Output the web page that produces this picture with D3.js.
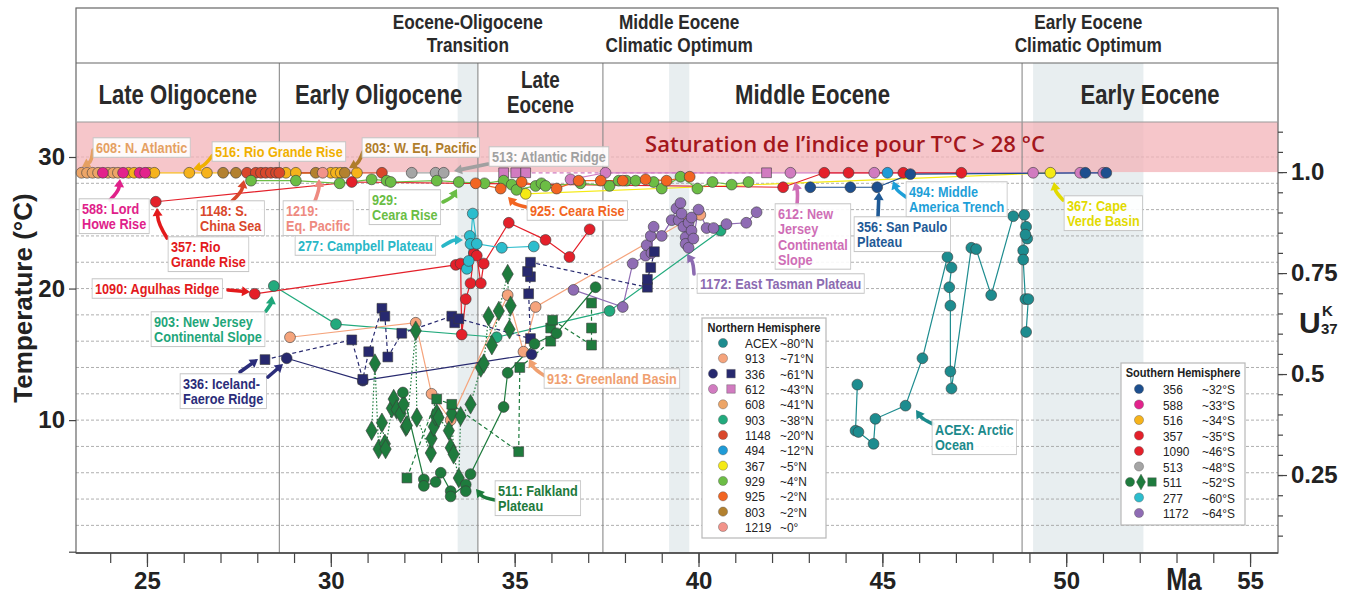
<!DOCTYPE html>
<html>
<head>
<meta charset="utf-8">
<script src="https://cdn.jsdelivr.net/npm/d3@7"></script>
<style>
  body { margin: 0; background: #fff; }
  svg text { font-family: "Liberation Sans", Arial, sans-serif; }
</style>
</head>
<body>
<div id="chart"></div>
<script>
// ---------- data (age in Ma, temperature in °C) ----------
// Northern Hemisphere
const acex = [[44.32,12.7],[44.27,9.2],[44.35,9.1],[44.76,8.2],[44.81,10.1],[45.63,11.1],[46.09,14.7],[46.77,22.4],[46.88,21.6],[46.82,20.1],[46.85,18.7],[46.85,13.7],[46.88,12.4],[47.42,23.1],[47.55,23.0],[47.96,19.5],[48.56,25.5],[48.86,25.6],[48.91,24.7],[48.94,23.8],[48.89,24.1],[48.83,22.9],[48.83,22.2],[48.89,19.2],[48.97,19.2],[48.91,16.7]];
const s913 = [[28.89,16.3],[32.31,17.4],[32.74,12.0],[33.26,10.0],[34.81,19.5],[35.24,15.2],[35.57,18.6],[39.62,25.1],[40.05,25.6]];
const s336c = [[28.80,14.7],[30.87,13.0],[35.46,15.0]];
const s336s = [[28.21,14.6],[30.57,16.1],[30.87,13.1],[31.03,15.2],[31.39,18.5],[31.47,17.9],[31.55,14.8],[31.93,16.6],[33.29,17.9],[33.37,17.4],[33.48,17.7],[35.43,16.2],[35.38,19.6],[35.43,20.9],[35.35,21.3],[35.43,22.0],[38.61,20.1],[38.61,20.7],[38.70,21.6],[38.80,22.8]];
const s612c = [[36.52,28.3],[37.47,28.8],[42.50,28.8],[44.78,28.8],[49.10,28.8],[50.38,28.8],[51.01,28.8]];
const s612s = [[34.70,28.8],[35.03,28.8],[35.30,28.8],[41.85,28.8]];
const s608 = [[23.22,28.8],[23.37,28.8],[23.52,28.8],[23.67,28.8],[23.94,28.8],[24.08,28.8],[24.21,28.8]];
const s903 = [[28.45,20.2],[30.14,17.3],[34.51,16.3],[37.58,18.3],[40.60,24.4]];
const s1148 = [[27.72,28.8],[27.96,28.8],[28.10,28.8],[28.23,28.8],[28.37,28.8],[28.51,28.8],[28.60,28.8],[31.39,28.8]];
const s494 = [[45.14,28.8]];
const s367 = [[35.30,27.2],[49.57,28.8]];
const s929 = [[27.83,28.2],[29.05,28.2],[30.24,28.0],[31.11,28.3],[31.52,28.2],[31.63,28.1],[32.88,28.2],[33.48,28.1],[34.18,28.0],[34.70,28.2],[34.92,27.9],[35.05,27.5],[35.57,27.8],[35.73,28.0],[35.84,27.8],[36.79,28.0],[37.58,27.8],[37.83,28.2],[38.04,28.2],[38.29,28.2],[38.78,28.1],[39.00,27.6],[39.51,28.5],[39.97,27.6],[40.38,28.1],[40.90,27.9],[41.36,28.1]];
const s925 = [[33.94,28.0],[34.62,27.6],[35.19,28.1],[36.14,27.6],[36.74,28.2],[37.34,28.2],[37.94,28.2],[38.56,28.3],[39.13,28.2],[39.76,28.5]];
const s803 = [[27.07,28.8],[27.42,28.8],[29.59,28.8],[30.38,28.8]];
const s1219 = [[29.78,28.8]];
// Southern Hemisphere
const s356 = [[43.04,27.7],[44.13,27.7],[44.86,27.7],[45.76,28.7],[50.52,28.8],[51.09,28.8]];
const s588 = [[23.80,28.8],[24.35,28.8],[24.80,28.8],[24.95,28.8]];
const s516 = [[24.50,28.8],[24.65,28.8],[25.05,28.8],[25.20,28.8],[26.15,28.8],[26.63,28.8],[28.78,28.8],[29.05,28.8],[30.00,28.8],[30.14,28.8],[30.27,28.8],[30.71,28.8]];
const s357 = [[25.24,26.6],[30.57,28.1],[42.30,27.7],[43.42,28.8],[44.08,28.8],[45.57,28.8],[47.15,28.8]];
const s1090 = [[27.93,19.6],[33.40,21.8],[33.53,21.9],[33.56,16.5],[33.67,19.2],[33.80,20.4],[33.89,22.7],[33.97,22.5],[34.08,20.4],[34.16,21.9],[34.84,25.0],[35.84,23.7],[36.49,22.4],[37.04,24.5]];
const s513 = [[32.20,28.8],[32.85,28.8],[33.07,28.8]];
const s511c = [[31.96,12.1],[32.53,5.5],[32.53,5.0],[32.85,5.3],[32.99,6.0],[33.26,4.6],[33.26,4.2],[33.67,5.1],[33.67,4.6],[33.80,5.9],[34.70,11.0],[34.81,13.6],[35.54,15.8],[36.14,16.6],[37.20,20.1]];
const s511d = [[31.11,9.2],[31.20,14.3],[31.30,7.8],[31.39,9.8],[31.47,8.2],[31.49,7.8],[31.66,10.9],[31.71,11.6],[31.79,10.8],[31.90,10.5],[31.98,11.2],[32.04,9.5],[32.07,9.6],[32.31,16.8],[32.34,10.2],[32.72,7.5],[32.74,8.6],[32.80,9.5],[32.85,10.3],[32.88,10.5],[32.93,10.2],[33.21,9.2],[33.26,7.9],[33.29,10.5],[33.34,7.4],[33.48,5.6],[33.53,10.3],[33.80,11.2],[34.08,14.0],[34.16,14.3],[34.29,17.9],[34.38,15.7],[34.57,18.3],[34.81,21.1],[34.86,16.9],[34.89,18.7]];
const s511s = [[32.07,5.6],[32.88,11.6],[33.29,11.2],[35.11,7.6],[35.14,14.0],[35.98,16.0],[35.98,17.0],[36.03,17.6],[37.09,15.7],[37.09,17.0],[37.09,18.9]];
const s277 = [[33.70,21.5],[33.75,22.1],[33.78,24.0],[33.80,23.4],[33.86,25.7],[33.97,23.4],[34.65,23.1],[35.52,23.2]];
const s1172 = [[36.60,19.9],[37.94,18.6],[38.21,21.9],[38.56,22.5],[38.59,23.3],[38.70,24.0],[38.72,22.7],[38.78,24.7],[39.00,24.0],[39.27,25.2],[39.40,26.1],[39.46,25.2],[39.51,26.5],[39.54,25.7],[39.59,24.7],[39.65,23.9],[39.65,23.4],[39.73,23.1],[39.73,25.0],[39.81,25.4],[39.81,24.4],[39.86,23.8],[40.00,26.0],[40.22,24.6],[40.41,24.6],[40.76,24.9],[41.30,25.0],[41.58,25.8]];

// time scale
const epochBounds = [28.6, 34.0, 37.4, 48.8];
const epochNames = [["Late Oligocene"],["Early Oligocene"],["Late","Eocene"],["Middle Eocene"],["Early Eocene"]];
const eventBands = [[33.45,34.0],[39.2,39.75],[49.1,52.1]];
const eventNames = [["Eocene-Oligocene","Transition"],["Middle Eocene","Climatic Optimum"],["Early Eocene","Climatic Optimum"]];

const gridTemps = d3.range(2, 31, 2);
const tempTicks = [0, 10, 20, 30];
const ukTicks = [0.25, 0.5, 0.75, 1.0];
const ageMajor = [25, 30, 35, 40, 45, 50, 55];
const ageMinor = d3.range(24, 56);

const northKeys = ["ACEX","913","336","612","608","903","1148","494","367","929","925","803","1219"];
const northLats = ["~80°N","~71°N","~61°N","~43°N","~41°N","~38°N","~20°N","~12°N","~5°N","~4°N","~2°N","~2°N","~0°"];
const southKeys = ["356","588","516","357","1090","513","511","277","1172"];
const southLats = ["~32°S","~33°S","~34°S","~35°S","~46°S","~48°S","~52°S","~60°S","~64°S"];

const colors = {
  ACEX:"#1d8c8f", "913":"#f5a47c", "336":"#27296f", "612":"#d17bc0", "608":"#eda567",
  "903":"#22aa7d", "1148":"#d9472b", "494":"#1f9bd7", "367":"#f5ea14", "929":"#6cbd45",
  "925":"#f26522", "803":"#b3812f", "1219":"#f2938a",
  "356":"#1d4f8e", "588":"#e3228c", "516":"#f6b31b", "357":"#e4202a", "1090":"#e4202a",
  "513":"#a5a5a5", "511":"#1e7b3d", "277":"#2cbdcd", "1172":"#8f6cb4"
};
const legendShapes = {"336":["circle","square"], "612":["circle","square"], "511":["circle","diamond","square"]};

const series = [
  {k:"516", d:s516, sh:"circle"}, {k:"608", d:s608, sh:"circle"}, {k:"588", d:s588, sh:"circle"},
  {k:"803", d:s803, sh:"circle"}, {k:"1148", d:s1148, sh:"circle"}, {k:"1219", d:s1219, sh:"circle"},
  {k:"513", d:s513, sh:"circle"}, {k:"612", d:s612s, sh:"square"}, {k:"612", d:s612c, sh:"circle"},
  {k:"367", d:s367, sh:"circle"}, {k:"357", d:s357, sh:"circle"}, {k:"929", d:s929, sh:"circle"},
  {k:"925", d:s925, sh:"circle"}, {k:"356", d:s356, sh:"circle"}, {k:"494", d:s494, sh:"circle"},
  {k:"903", d:s903, sh:"circle"}, {k:"913", d:s913, sh:"circle"}, {k:"1172", d:s1172, sh:"circle"},
  {k:"336", d:s336c, sh:"circle"}, {k:"336", d:s336s, sh:"square"},
  {k:"511", d:s511d, sh:"diamond"}, {k:"511", d:s511s, sh:"square"}, {k:"511", d:s511c, sh:"circle"},
  {k:"1090", d:s1090, sh:"circle"}, {k:"277", d:s277, sh:"circle"}, {k:"ACEX", d:acex, sh:"circle"}
];

// annotation layout (pixels): label text, first baseline, arrow from -> to
const notes = [
  {t:["608: N. Atlantic"], c:"#e5a062", x:96, y:153, a:[[93,150],[82,167]], b:-5},
  {t:["516: Rio Grande Rise"], c:"#f0b000", x:215, y:157, a:[[212,156],[193,169]], b:-4},
  {t:["803: W. Eq. Pacific"], c:"#b07d2b", x:365, y:153, a:[[363,152],[349,168]], b:-4},
  {t:["513: Atlantic Ridge"], c:"#a0a0a0", x:492, y:162, a:[[488,164],[454,171]], b:0},
  {t:["588: Lord","Howe Rise"], c:"#e0218a", x:82, y:214, a:[[110,200],[120,179]], b:4},
  {t:["357: Rio","Grande Rise"], c:"#e31a1c", x:171, y:252, a:[[167,238],[157,208]], b:-4},
  {t:["1148: S.","China Sea"], c:"#d9472b", x:200, y:216, a:[[232,201],[244,180]], b:4},
  {t:["1219:","Eq. Pacific"], c:"#ee8a80", x:286, y:216, a:[[315,201],[319,179]], b:2},
  {t:["929:","Ceara Rise"], c:"#6abd45", x:372, y:205, a:[[443,202],[457,189]], b:3},
  {t:["277: Campbell Plateau"], c:"#2ab7c7", x:298, y:251, a:[[443,246],[463,240]], b:-3},
  {t:["1090: Agulhas Ridge"], c:"#e31a1c", x:95, y:294, a:[[228,290],[250,292]], b:0},
  {t:["903: New Jersey","Continental Slope"], c:"#1fa67a", x:154, y:327, a:[[266,311],[272,296]], b:2},
  {t:["336: Iceland-","Faeroe Ridge"], c:"#2b2d7a", x:183, y:389, a:[[240,372],[258,359]], b:0},
  {t:[], c:"#2b2d7a", a:[[268,377],[283,364]], b:0},
  {t:["925: Ceara Rise"], c:"#f26522", x:530, y:216, a:[[526,207],[508,197]], b:-3},
  {t:["511: Falkland","Plateau"], c:"#1d7a3c", x:498, y:496, a:[[495,500],[476,489]], b:-4},
  {t:["913: Greenland Basin"], c:"#f0a070", x:547, y:384, a:[[545,376],[529,359]], b:-3},
  {t:["1172: East Tasman Plateau"], c:"#8c6bb1", x:700, y:289, a:[[694,274],[687,254]], b:3},
  {t:["612: New","Jersey","Continental","Slope"], c:"#cf6eb6", x:778, y:219, a:[[797,205],[795,182]], b:2},
  {t:["356: San Paulo","Plateau"], c:"#1f5a96", x:857, y:232, a:[[878,217],[879,192]], b:0},
  {t:["494: Middle","America Trench"], c:"#1e9fd8", x:909, y:197, a:[[906,197],[893,181]], b:-3},
  {t:["367: Cape","Verde Basin"], c:"#e2da00", x:1067, y:211, a:[[1063,200],[1054,182]], b:-3},
  {t:["ACEX: Arctic","Ocean"], c:"#1b8a8c", x:935, y:435, a:[[933,424],[916,410]], b:-3}
];

// ---------- layout ----------
const W = 1354, H = 598;
const plotL = 76, plotR = 1278, plotT = 122, plotB = 553, headT = 8, headMid = 63;
const narrow = 0.82; // horizontal squeeze to imitate the condensed face of the original

const x = d3.scaleLinear().domain([23.07, 55.76]).range([plotL, plotR]);
const y = d3.scaleLinear().domain([-0.1, 32.66]).range([plotB, plotT]);
const u = d3.scaleLinear().domain([0.057, 1.124]).range([plotB, plotT]);

const svg = d3.select("#chart").append("svg")
  .attr("width", W).attr("height", H).style("display", "block");

// text squeezed horizontally, lines stacked from (px, py)
function condText(parent, px, py, lines, size, weight, fill, anchor, lh, sx) {
  const g = parent.append("g").attr("transform", `translate(${px},${py}) scale(${sx || narrow},1)`);
  const t = g.append("text").attr("text-anchor", anchor || "start").attr("fill", fill)
    .style("font-size", size + "px").style("font-weight", weight);
  lines.forEach((l, i) => t.append("tspan").attr("x", 0).attr("y", i * (lh || 0)).text(l));
  return {g, t};
}

// event bands
svg.append("g").selectAll("rect").data(eventBands).join("rect")
  .attr("x", d => x(d[0])).attr("width", d => x(d[1]) - x(d[0]))
  .attr("y", headMid).attr("height", plotB - headMid)
  .attr("fill", "#e8eef0");

// dashed grid
svg.append("g").selectAll("line").data(gridTemps).join("line")
  .attr("x1", plotL).attr("x2", plotR)
  .attr("y1", d => y(d)).attr("y2", d => y(d))
  .attr("stroke", "#9a9a9a").attr("stroke-width", 0.8).attr("stroke-dasharray", "3,2");

// saturation band
svg.append("rect")
  .attr("x", plotL).attr("width", plotR - plotL)
  .attr("y", plotT).attr("height", u(1.0) - plotT)
  .attr("fill", "#f3b3b8").attr("opacity", 0.75);

svg.append("text")
  .attr("x", 845).attr("y", 152).attr("text-anchor", "middle")
  .style("font-family", "'Open Sans', sans-serif").style("font-weight", 600)
  .style("font-size", "22px").attr("fill", "#a3161c")
  .text("Saturation de l\u2019indice pour T°C > 28 °C");

// epoch boundaries
svg.append("g").selectAll("line").data(epochBounds).join("line")
  .attr("x1", d => x(d)).attr("x2", d => x(d))
  .attr("y1", headMid).attr("y2", plotB)
  .attr("stroke", "#8a8a8a").attr("stroke-width", 1.1);

// ---------- data ----------
const symType = {circle: d3.symbolCircle, square: d3.symbolSquare, diamond: d3.symbolDiamond};
const symSize = {circle: 92, square: 96, diamond: 110};
const dashOf = {circle: null, square: "4,3", diamond: "1.5,2"};
const line = d3.line().x(d => x(d[0])).y(d => y(d[1]));

const gLines = svg.append("g");
const gPts = svg.append("g");
series.forEach(s => {
  if (s.d.length > 1) {
    gLines.append("path").datum(s.d)
      .attr("d", line).attr("fill", "none")
      .attr("stroke", colors[s.k]).attr("stroke-width", 1.2)
      .attr("stroke-dasharray", dashOf[s.sh]);
  }
});
series.forEach(s => {
  gPts.append("g").selectAll("path").data(s.d).join("path")
    .attr("d", d3.symbol().type(symType[s.sh]).size(symSize[s.sh]))
    .attr("transform", d => `translate(${x(d[0])},${y(d[1])})`)
    .attr("fill", colors[s.k]).attr("stroke", "#3a3a3a").attr("stroke-width", 0.6);
});

// ---------- annotations ----------
function arrow(g, p1, p2, color, bend) {
  const [x1, y1] = p1, [x2, y2] = p2;
  const dx = x2 - x1, dy = y2 - y1, len = Math.hypot(dx, dy);
  const cx = (x1 + x2) / 2 - dy / len * bend, cy = (y1 + y2) / 2 + dx / len * bend;
  const ang = Math.atan2(y2 - cy, x2 - cx);
  const hl = 8, hw = 5;
  const bx = x2 - hl * Math.cos(ang), by = y2 - hl * Math.sin(ang);
  g.append("path").attr("d", `M${x1},${y1}Q${cx},${cy} ${bx},${by}`)
    .attr("fill", "none").attr("stroke", color).attr("stroke-width", 3.6).attr("stroke-linecap", "round");
  g.append("path")
    .attr("d", `M${x2},${y2}L${bx - hw * Math.sin(ang)},${by + hw * Math.cos(ang)}L${bx + hw * Math.sin(ang)},${by - hw * Math.cos(ang)}Z`)
    .attr("fill", color);
}

const gNotes = svg.append("g");
notes.forEach(n => {
  arrow(gNotes, n.a[0], n.a[1], n.c, n.b);
  if (!n.t.length) return;
  const {g, t} = condText(gNotes, n.x, n.y, n.t, 15.5, "bold", n.c, "start", 15.3);
  const bb = t.node().getBBox();
  g.insert("rect", "text").attr("x", bb.x - 3.5).attr("y", bb.y - 1).attr("width", bb.width + 7).attr("height", bb.height + 2)
    .attr("fill", "#fff").attr("fill-opacity", 0.9).attr("stroke", "#c4c4c4").attr("stroke-width", 1);
});

// ---------- legends ----------
const shapeOffsets = {1: [0], 2: [-10, 8], 3: [-9, 2, 13]};
function legend(x0, y0, w, h, title, keys, lats, symX, numX, latX, rowY, step) {
  const g = svg.append("g");
  g.append("rect").attr("x", x0).attr("y", y0).attr("width", w).attr("height", h)
    .attr("fill", "#fff").attr("stroke", "#b8b8b8").attr("stroke-width", 1.2);
  condText(g, x0 + w / 2, y0 + 14, [title], 13, "bold", "#222", "middle", 0, 0.85);
  keys.forEach((k, i) => {
    const cy = rowY + i * step;
    const shapes = legendShapes[k] || ["circle"];
    shapes.forEach((sh, j) => {
      g.append("path").attr("d", d3.symbol().type(symType[sh]).size(sh === "circle" ? 66 : 72)())
        .attr("transform", `translate(${symX + shapeOffsets[shapes.length][j]},${cy})`).attr("fill", colors[k])
        .attr("stroke", "#555").attr("stroke-width", 0.4);
    });
    condText(g, numX, cy + 5, [k], 13.5, "normal", "#222", "start", 0, 0.88);
    condText(g, latX, cy + 5, [lats[i]], 13.5, "normal", "#222", "start", 0, 0.88);
  });
}
legend(702, 318, 124, 220, "Northern Hemisphere", northKeys, northLats, 723, 745, 780, 343, 15.33);
legend(1121, 363, 124, 162, "Southern Hemisphere", southKeys, southLats, 1139, 1163, 1202, 389, 15.5);

// ---------- frame, header ----------
const frame = svg.append("g").attr("stroke", "#666").attr("stroke-width", 1.2);
frame.append("rect").attr("x", plotL).attr("y", headT).attr("width", plotR - plotL).attr("height", plotB - headT).attr("fill", "none");
frame.append("line").attr("x1", plotL).attr("x2", plotR).attr("y1", headMid).attr("y2", headMid);
frame.append("line").attr("x1", plotL).attr("x2", plotR).attr("y1", plotT).attr("y2", plotT).attr("stroke", "#999");

const edges = [x.domain()[0], ...epochBounds, x.domain()[1]];
epochNames.forEach((lines, i) => {
  const cx = (x(edges[i]) + x(edges[i + 1])) / 2;
  if (lines.length === 1) condText(svg, cx, 104, lines, 27, "bold", "#2a2a2a", "middle", 0);
  else lines.forEach((l, j) => condText(svg, cx, 88 + j * 25, [l], 23, "bold", "#2a2a2a", "middle", 0));
});
eventNames.forEach((lines, i) => {
  const cx = (x(eventBands[i][0]) + x(eventBands[i][1])) / 2;
  condText(svg, cx, 29, lines, 21, "bold", "#2a2a2a", "middle", 23);
});

// ---------- axes ----------
function styleAxis(g) {
  g.select(".domain").remove();
  g.selectAll(".tick line").attr("stroke", "#444").attr("stroke-width", 1.2);
  g.selectAll("text").style("font-weight", "bold").style("font-size", "24px").attr("fill", "#222");
}
svg.append("g").attr("transform", `translate(0,${plotB})`)
  .call(d3.axisBottom(x).tickValues(ageMinor.filter(v => x(v) > plotL + 1 && x(v) <= plotR)).tickSize(10).tickFormat(""))
  .call(styleAxis);
svg.append("g").attr("transform", `translate(0,${plotB})`)
  .call(d3.axisBottom(x).tickValues(ageMajor).tickSize(14).tickPadding(5).tickFormat(d3.format("d")))
  .call(styleAxis);
svg.append("g").attr("transform", `translate(${plotL},0)`)
  .call(d3.axisLeft(y).tickValues(tempTicks).tickSize(7).tickPadding(4).tickFormat(d => d ? d : ""))
  .call(styleAxis);
svg.append("g").attr("transform", `translate(${plotR},0)`)
  .call(d3.axisRight(u).tickValues(d3.range(0.1, 1.11, 0.05)).tickSize(5).tickFormat(""))
  .call(styleAxis);
svg.append("g").attr("transform", `translate(${plotR},0)`)
  .call(d3.axisRight(u).tickValues(ukTicks).tickSize(9).tickPadding(4).tickFormat(d => d === 1 ? "1.0" : d))
  .call(styleAxis);
svg.append("line").attr("x1", plotL).attr("x2", plotR).attr("y1", plotB).attr("y2", plotB)
  .attr("stroke", "#444").attr("stroke-width", 1.5);

// axis titles
svg.append("text").attr("transform", "translate(32,298) rotate(-90)")
  .attr("text-anchor", "middle")
  .style("font-weight", "bold").style("font-size", "26px")
  .attr("fill", "#222").text("Temperature (°C)");
condText(svg, 1184, 590, ["Ma"], 31, "bold", "#222", "middle", 0);
const uk = svg.append("g").attr("fill", "#222").style("font-weight", "bold");
uk.append("text").attr("x", 1299).attr("y", 333).style("font-size", "30px").text("U");
uk.append("text").attr("x", 1322).attr("y", 316).style("font-size", "15px").text("K");
uk.append("text").attr("x", 1321).attr("y", 334).style("font-size", "15px").text("37");
</script>
</body>
</html>
